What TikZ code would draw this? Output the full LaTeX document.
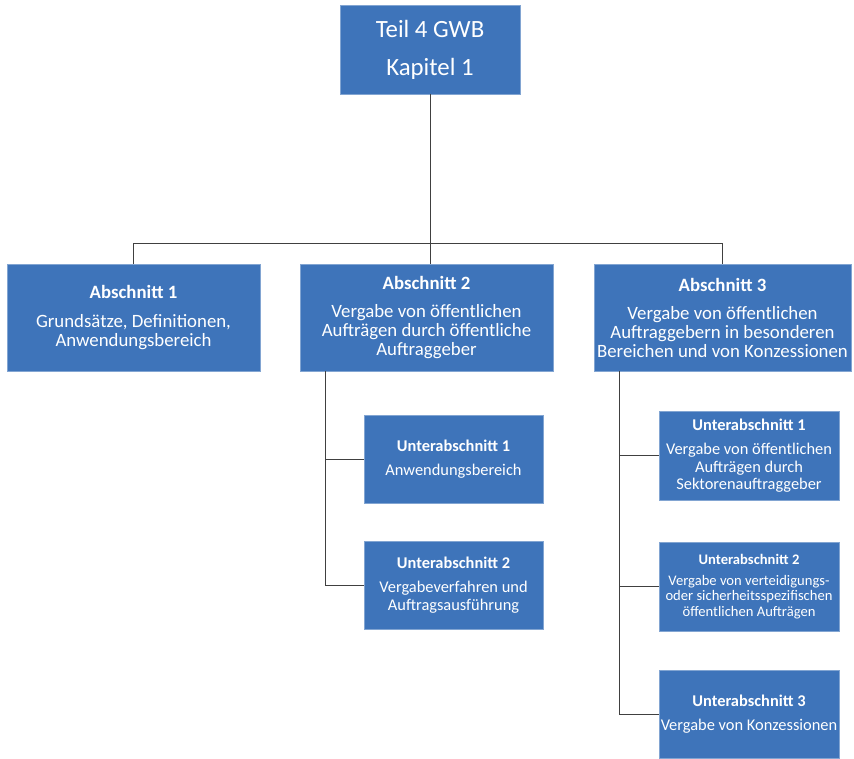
\documentclass[tikz,border=0pt]{standalone}
\usepackage{fontspec}
\setmainfont{Carlito}
\definecolor{boxblue}{RGB}{62,116,186}
\definecolor{linegray}{RGB}{64,64,64}
\begin{document}
\begin{tikzpicture}[x=1pt,y=-1pt,
  box/.style={draw=boxblue!65!white, line width=0.6pt, fill=boxblue, text=white, align=center, inner sep=0pt},
  big/.style={font=\fontsize{18.8}{19}\selectfont},
  mid/.style={font=\fontsize{16.4}{17.5}\selectfont},
  small/.style={font=\fontsize{14.6}{15.5}\selectfont},
  conn/.style={draw=linegray, line width=0.9pt}]
\useasboundingbox (0,0) rectangle (854,758);
\fill[white] (0,0) rectangle (854,758);

\node[box, minimum width=180, minimum height=89, font=\fontsize{24.8}{27}\selectfont] (top) at (430,49.5) {Teil 4 GWB\\[11pt]Kapitel 1};

\node[box, big, minimum width=253, minimum height=107] (a1) at (133.5,317.5)
  {\textbf{Abschnitt 1}\\[10pt]Grundsätze, Definitionen,\\Anwendungsbereich};
\node[box, big, minimum width=253, minimum height=107] (a2) at (426.5,317.5)
  {\textbf{Abschnitt 2}\\[9pt]Vergabe von öffentlichen\\Aufträgen durch öffentliche\\Auftraggeber};
\node[box, big, minimum width=257, minimum height=107] (a3) at (722.5,317.5)
  {\textbf{Abschnitt 3}\\[9pt]Vergabe von öffentlichen\\Auftraggebern in besonderen\\Bereichen und von Konzessionen};

\node[box, mid, minimum width=179, minimum height=88] (a2u1) at (453.5,459)
  {\textbf{Unterabschnitt 1}\\[7pt]Anwendungsbereich};
\node[box, mid, minimum width=179, minimum height=88] (a2u2) at (453.5,585)
  {\textbf{Unterabschnitt 2}\\[7pt]Vergabeverfahren und\\Auftragsausführung};

\node[box, mid, minimum width=180, minimum height=89] (a3u1) at (749,455.5)
  {\textbf{Unterabschnitt 1}\\[7pt]Vergabe von öffentlichen\\Aufträgen durch\\Sektorenauftraggeber};
\node[box, small, minimum width=180, minimum height=89] (a3u2) at (749,586.5)
  {\textbf{Unterabschnitt 2}\\[5pt]Vergabe von verteidigungs-\\oder sicherheitsspezifischen\\öffentlichen Aufträgen};
\node[box, mid, minimum width=180, minimum height=88] (a3u3) at (749,714)
  {\textbf{Unterabschnitt 3}\\[7pt]Vergabe von Konzessionen};

\coordinate (bus) at (430,243);
\coordinate (s2) at (325,0);
\coordinate (s3) at (619,0);

\draw[conn] (top.south) -- (top.south |- a2.north);
\draw[conn] (a1.north) -- (a1.north |- bus) -- (a3.north |- bus) -- (a3.north);

\draw[conn] (s2 |- a2.south) -- (s2 |- a2u2.west) -- (a2u2.west);
\draw[conn] (s2 |- a2u1.west) -- (a2u1.west);

\draw[conn] (s3 |- a3.south) -- (s3 |- a3u3.west) -- (a3u3.west);
\draw[conn] (s3 |- a3u1.west) -- (a3u1.west);
\draw[conn] (s3 |- a3u2.west) -- (a3u2.west);
\end{tikzpicture}
\end{document}
